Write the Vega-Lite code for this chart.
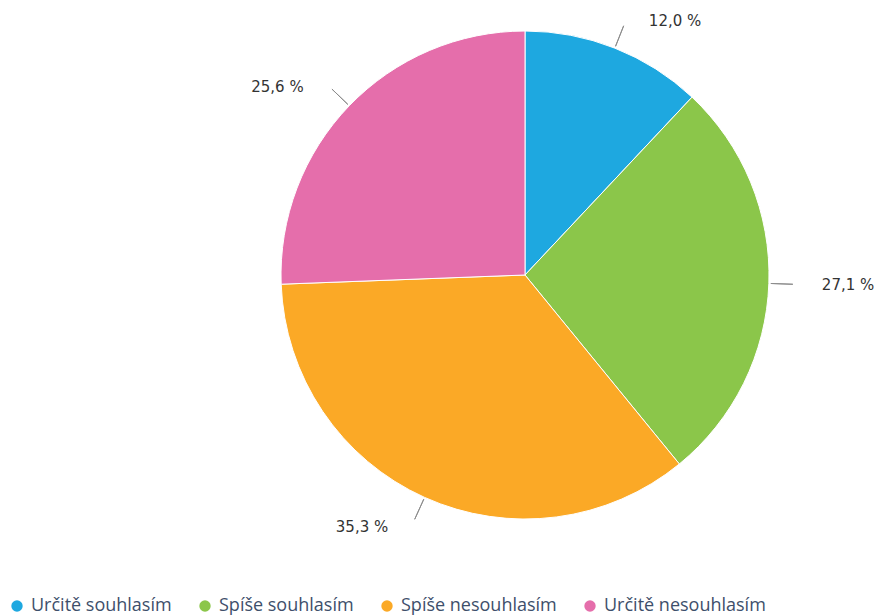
{
  "$schema": "https://vega.github.io/schema/vega-lite/v6.json",
  "autosize": "none",
  "width": 700,
  "height": 550,
  "padding": {"left": 175, "top": 0, "right": 0, "bottom": 66},
  "background": "white",
  "data": {
    "values": [
      {"category": "Určitě souhlasím", "value": 12.0, "label": "12,0 %", "order": 1},
      {"category": "Spíše souhlasím", "value": 27.1, "label": "27,1 %", "order": 2},
      {"category": "Spíše nesouhlasím", "value": 35.3, "label": "35,3 %", "order": 3},
      {"category": "Určitě nesouhlasím", "value": 25.6, "label": "25,6 %", "order": 4}
    ]
  },
  "transform": [
    {"stack": "value", "groupby": [], "sort": [{"field": "order", "order": "ascending"}], "as": ["v0", "v1"]},
    {"calculate": "(datum.v0 + datum.v1) / 2", "as": "mid"}
  ],
  "layer": [
    {
      "mark": {"type": "arc", "outerRadius": 244, "stroke": "white", "strokeWidth": 1},
      "encoding": {
        "theta": {"field": "v0", "type": "quantitative", "scale": {"domain": [0, 100]}},
        "theta2": {"field": "v1"},
        "color": {
          "field": "category",
          "type": "nominal",
          "sort": ["Určitě souhlasím", "Spíše souhlasím", "Spíše nesouhlasím", "Určitě nesouhlasím"],
          "scale": {
            "domain": ["Určitě souhlasím", "Spíše souhlasím", "Spíše nesouhlasím", "Určitě nesouhlasím"],
            "range": ["#1ea8e0", "#8bc64a", "#fba926", "#e56eab"]
          },
          "legend": {
            "orient": "none",
            "legendX": -167,
            "legendY": 597,
            "direction": "horizontal",
            "title": null,
            "symbolType": "circle",
            "symbolSize": 130,
            "symbolStrokeWidth": 0,
            "labelFont": "Open Sans",
            "labelFontSize": 18,
            "labelColor": "#3e4f6b",
            "labelOffset": 5,
            "labelLimit": 300,
            "columnPadding": 24
          }
        }
      }
    },
    {
      "mark": {"type": "arc", "radius": 268, "radius2": 246, "filled": false, "stroke": "#8c8c8c", "strokeWidth": 1},
      "encoding": {
        "theta": {"field": "mid", "type": "quantitative"},
        "theta2": {"field": "mid"}
      }
    },
    {
      "transform": [{"filter": "datum.mid < 50"}],
      "mark": {"type": "text", "radius": 274, "align": "left", "dx": 23, "baseline": "middle", "dy": 1, "font": "DejaVu Sans", "fontSize": 15, "color": "#333333"},
      "encoding": {
        "theta": {"field": "mid", "type": "quantitative"},
        "text": {"field": "label"}
      }
    },
    {
      "transform": [{"filter": "datum.mid >= 50"}],
      "mark": {"type": "text", "radius": 274, "align": "right", "dx": -24, "baseline": "middle", "dy": 2, "font": "DejaVu Sans", "fontSize": 15, "color": "#333333"},
      "encoding": {
        "theta": {"field": "mid", "type": "quantitative"},
        "text": {"field": "label"}
      }
    }
  ],
  "config": {"view": {"stroke": null}}
}
